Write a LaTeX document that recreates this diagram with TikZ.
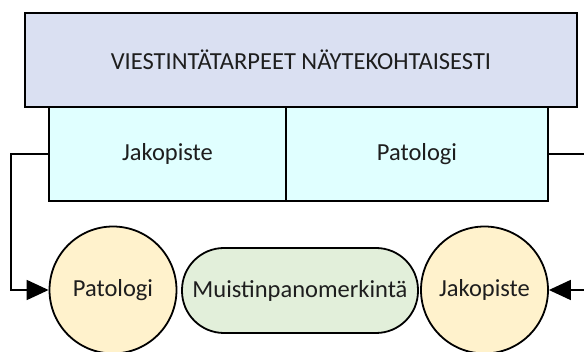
\documentclass[tikz,border=0pt]{standalone}
\usepackage{fontspec}
\setmainfont{Carlito}
\usetikzlibrary{arrows.meta}
\definecolor{headfill}{HTML}{DAE0F2}
\definecolor{rolefill}{HTML}{E0FFFF}
\definecolor{actorfill}{HTML}{FFF2CC}
\definecolor{notefill}{HTML}{E2EFDA}
\definecolor{inkgray}{HTML}{1E1E1E}
\tikzset{
  box/.style={draw=black, line width=1.8pt, inner sep=0pt, text=inkgray,
    font=\fontsize{24.5}{29}\selectfont},
  headbox/.style={box, rectangle, fill=headfill, minimum width=552pt, minimum height=94pt},
  rolebox/.style={box, rectangle, fill=rolefill, minimum height=94pt},
  actor/.style={box, circle, fill=actorfill, minimum size=127pt},
  notebox/.style={box, rectangle, rounded corners=42pt, fill=notefill,
    minimum width=236pt, minimum height=85pt},
  link/.style={draw=black, line width=1.8pt, -{Triangle[length=22pt,width=20pt]}}
}
\begin{document}
\begin{tikzpicture}[x=1pt, y=-1pt]
  \useasboundingbox (0,0) rectangle (584,352);
  % header and the two role cells
  \node[headbox] (head) at (301,60) {VIESTINTÄTARPEET NÄYTEKOHTAISESTI};
  \node[rolebox, minimum width=237pt] (jak) at (167.5,154) {Jakopiste};
  \node[rolebox, minimum width=262pt] (pat) at (417,154) {Patologi};
  % bottom row
  \node[actor] (cpat) at (113,290) {Patologi};
  \node[notebox] (memo) at (300,290.5) {Muistinpanomerkintä};
  \node[actor] (cjak) at (484.5,290) {Jakopiste};
  % connectors
  \draw[link] (jak.west) -- ++(-37,0) |- (cpat.west);
  \draw[link] (pat.east) -- ++(50,0) |- (cjak.east);
\end{tikzpicture}
\end{document}
